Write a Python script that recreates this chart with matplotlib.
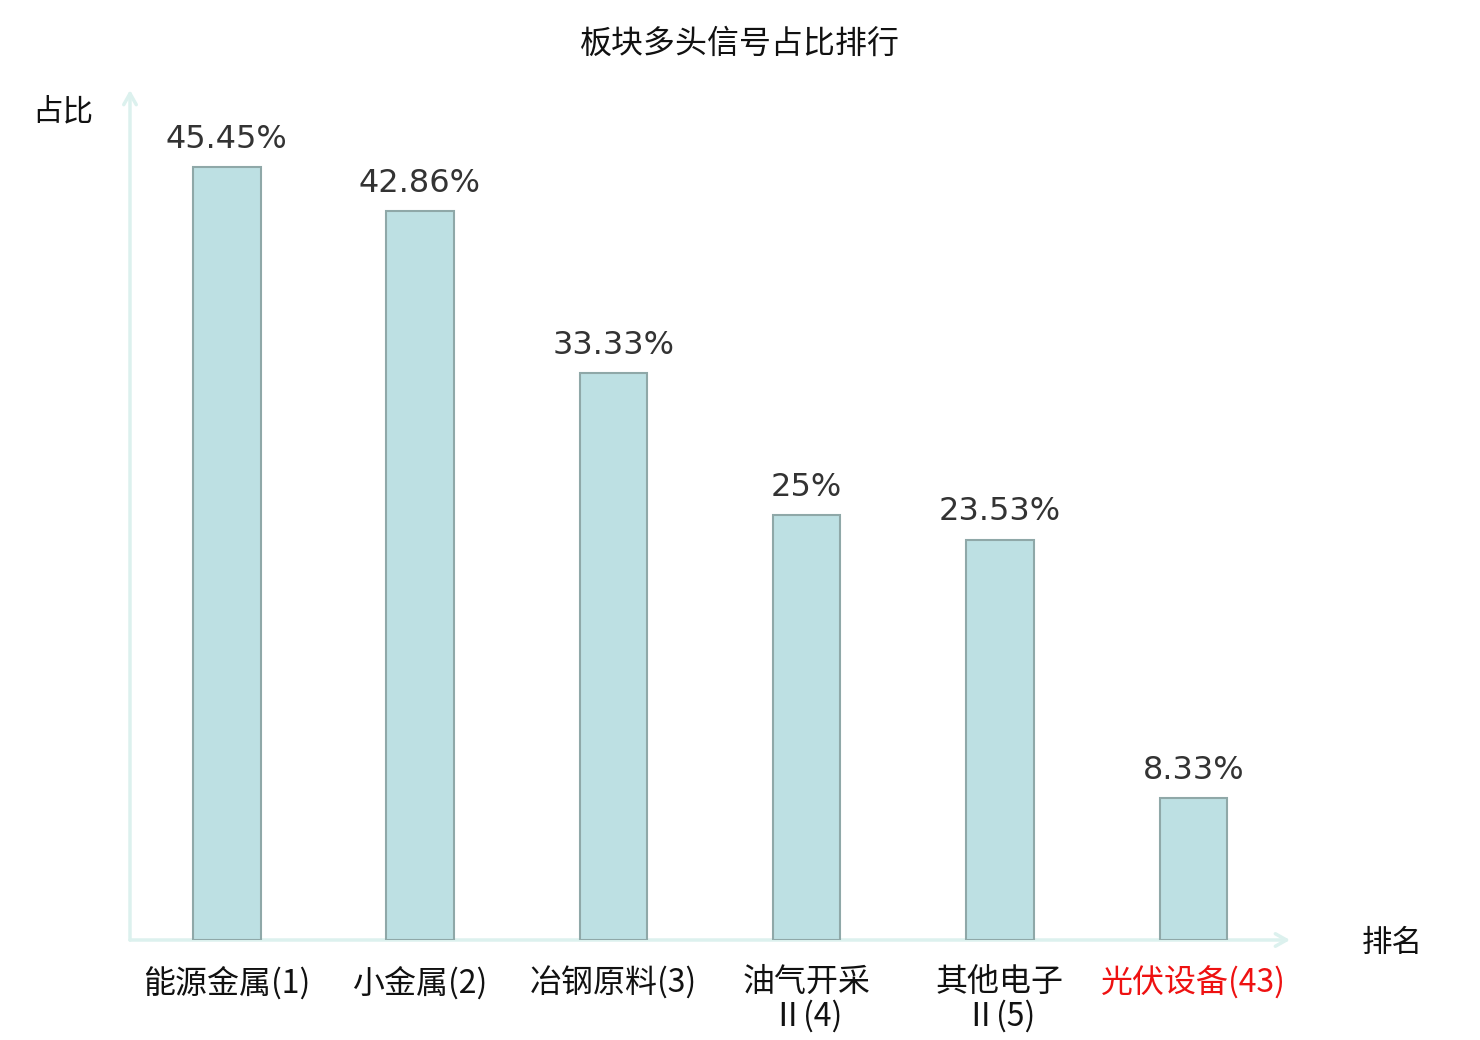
import matplotlib
matplotlib.use("Agg")
import matplotlib.pyplot as plt

categories = ["能源金属(1)", "小金属(2)", "冶钢原料(3)", "油气开采\nⅡ(4)", "其他电子\nⅡ(5)", "光伏设备(43)"]
values = [45.45, 42.86, 33.33, 25, 23.53, 8.33]
value_labels = ["45.45%", "42.86%", "33.33%", "25%", "23.53%", "8.33%"]
label_colors = ["#111111", "#111111", "#111111", "#111111", "#111111", "#ee1111"]

CJK = ["Noto Sans CJK SC", "DejaVu Sans"]
LAT = ["DejaVu Sans", "Noto Sans CJK SC"]

fig = plt.figure(figsize=(14.8, 10.4), dpi=100)
ax = fig.add_axes([130/1480, 100/1040, 1160/1480, 850/1040])
ax.set_xlim(-0.5, 5.5)
ax.set_ylim(0, 50)

x = list(range(len(categories)))
bars = ax.bar(x, values, width=0.35, color="#bde0e3", edgecolor="#8fa8a8", linewidth=1.5, zorder=3)

for xi, v, lab in zip(x, values, value_labels):
    ax.annotate(lab, (xi, v), xytext=(0, 9), textcoords="offset points",
                ha="center", va="bottom", fontsize=23, color="#333333", family=LAT)

for s in ax.spines.values():
    s.set_visible(False)

axis_col = "#dcf1ee"
ax.annotate("", xy=(1.0, 0), xytext=(0, 0), xycoords="axes fraction",
            arrowprops=dict(arrowstyle="->,head_length=0.8,head_width=0.45", color=axis_col, lw=2.5,
                            shrinkA=0, shrinkB=0), zorder=2, annotation_clip=False)
ax.annotate("", xy=(0, 1.0), xytext=(0, 0), xycoords="axes fraction",
            arrowprops=dict(arrowstyle="->,head_length=0.8,head_width=0.45", color=axis_col, lw=2.5,
                            shrinkA=0, shrinkB=0), zorder=2, annotation_clip=False)

ax.set_yticks([])
ax.set_xticks(x)
ax.set_xticklabels(categories, family=CJK, fontsize=23, linespacing=1.05)
ax.tick_params(axis="x", length=0, pad=19)
for t, c in zip(ax.get_xticklabels(), label_colors):
    t.set_color(c)

fig.text(740/1480, 1 - 44/1040, "板块多头信号占比排行", ha="center", va="center",
         fontsize=23, family=CJK, color="#111111")
fig.text(63/1480, 1 - 112/1040, "占比", ha="center", va="center", fontsize=22, family=CJK, color="#111111")
fig.text(1392/1480, 1 - 943/1040, "排名", ha="center", va="center", fontsize=22, family=CJK, color="#111111")

fig.savefig("out.png", dpi=100, facecolor="white")
